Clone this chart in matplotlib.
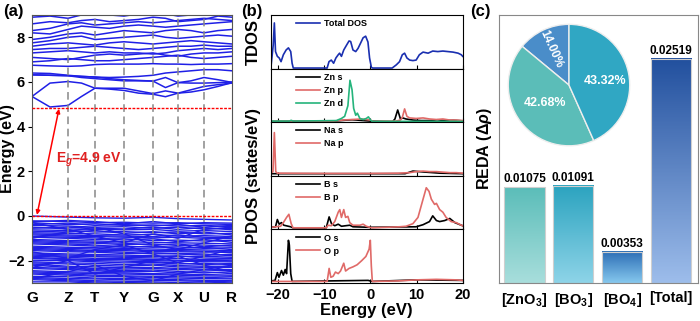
import numpy as np
import matplotlib.pyplot as plt
from matplotlib.colors import LinearSegmentedColormap

plt.rcParams['font.family'] = ['Liberation Sans', 'DejaVu Sans']
plt.rcParams['font.weight'] = 'bold'
plt.rcParams['axes.labelweight'] = 'bold'
plt.rcParams['mathtext.fontset'] = 'custom'
plt.rcParams['mathtext.rm'] = 'Liberation Sans:bold'
plt.rcParams['mathtext.bf'] = 'Liberation Sans:bold'
plt.rcParams['mathtext.it'] = 'Liberation Sans:bold:italic'

# ---------------- (a) band structure ----------------
kpt_labels = ['G', 'Z', 'T', 'Y', 'G', 'X', 'U', 'R']
kpt_pos = [0, 36, 63, 92, 121, 146, 172, 200]
# conduction bands: high-symmetry points plus midpoints
kfine = [0, 18, 36, 49.5, 63, 77.5, 92, 106.5, 121, 133.5, 146, 159, 172, 186, 200]
cb = [
    [5.35, 4.88, 4.95, 5.35, 5.72, 5.68, 5.62, 5.5, 5.45, 5.34, 5.5, 5.65, 5.8, 5.88, 5.95],
    [5.35, 5.95, 6.02, 5.95, 5.72, 5.72, 5.72, 5.6, 5.48, 5.6, 5.5, 5.55, 5.65, 5.8, 5.97],
    [6.32, 6.3, 6.28, 6.2, 6.15, 6.1, 6.05, 6.05, 6.04, 6.2, 5.97, 6.05, 6.2, 6.1, 5.98],
    [6.32, 6.3, 6.28, 6.25, 6.22, 6.15, 6.1, 6.07, 6.04, 5.75, 5.97, 5.95, 5.95, 5.97, 6.0],
    [6.4, 6.38, 6.3, 6.25, 6.22, 6.2, 6.22, 6.25, 6.3, 6.4, 6.45, 6.5, 6.55, 6.55, 6.5],
    [6.75, 6.72, 6.7, 6.72, 6.78, 6.8, 6.8, 6.8, 6.82, 6.8, 6.8, 6.78, 6.8, 6.8, 6.82],
    [6.9, 6.95, 7.05, 7.0, 6.95, 6.95, 7.0, 7.05, 7.1, 7.15, 7.2, 7.1, 7.05, 7.1, 7.15],
    [7.1, 7.05, 7.0, 7.1, 7.2, 7.25, 7.2, 7.25, 7.3, 7.2, 7.15, 7.25, 7.3, 7.3, 7.35],
    [7.3, 7.35, 7.4, 7.35, 7.3, 7.35, 7.3, 7.3, 7.25, 7.3, 7.4, 7.45, 7.5, 7.45, 7.5],
    [7.45, 7.5, 7.5, 7.55, 7.6, 7.55, 7.5, 7.45, 7.5, 7.55, 7.6, 7.6, 7.65, 7.6, 7.6],
    [7.6, 7.7, 7.75, 7.7, 7.65, 7.75, 7.8, 7.75, 7.7, 7.75, 7.8, 7.85, 7.8, 7.75, 7.7],
    [7.75, 7.85, 8.0, 8.05, 7.9, 7.95, 8.0, 8.05, 8.1, 8.0, 7.95, 8.0, 8.05, 8.1, 8.05],
    [7.9, 8.0, 8.15, 8.2, 8.1, 8.2, 8.3, 8.25, 8.2, 8.3, 8.35, 8.3, 8.2, 8.3, 8.35],
    [8.2, 8.15, 8.35, 8.5, 8.45, 8.4, 8.5, 8.55, 8.5, 8.45, 8.5, 8.55, 8.6, 8.65, 8.7],
    [8.3, 8.4, 8.6, 8.65, 8.55, 8.6, 8.65, 8.7, 8.65, 8.7, 8.75, 8.8, 8.85, 8.8, 8.75],
    [8.6, 8.7, 8.65, 8.75, 8.8, 8.7, 8.75, 8.8, 8.9, 8.85, 8.7, 8.75, 8.8, 8.95, 8.9],
    [8.9, 8.95, 8.85, 9.0, 9.05, 9.0, 8.95, 9.05, 9.1, 9.05, 8.95, 9.0, 9.05, 9.1, 9.05],
]
# valence bands at the high-symmetry points
vb = [
    [0.00, -0.05, -0.08, -0.1, -0.06, -0.12, -0.15, -0.18],
    [-0.22, -0.25, -0.3, -0.28, -0.32, -0.3, -0.35, -0.38],
    [-0.25, -0.2, -0.25, -0.35, -0.25, -0.35, -0.3, -0.32],
    [-0.3, -0.38, -0.35, -0.42, -0.4, -0.45, -0.42, -0.48],
    [-0.38, -0.32, -0.42, -0.38, -0.45, -0.38, -0.5, -0.42],
    [-0.42, -0.45, -0.5, -0.48, -0.55, -0.5, -0.58, -0.55],
    [-0.5, -0.58, -0.6, -0.62, -0.6, -0.68, -0.65, -0.7],
    [-0.55, -0.5, -0.55, -0.58, -0.5, -0.6, -0.52, -0.62],
    [-0.62, -0.65, -0.72, -0.7, -0.75, -0.72, -0.8, -0.78],
    [-0.68, -0.72, -0.65, -0.78, -0.7, -0.8, -0.72, -0.85],
    [-0.75, -0.78, -0.8, -0.85, -0.82, -0.9, -0.88, -0.92],
    [-0.8, -0.85, -0.88, -0.9, -0.92, -0.85, -0.95, -0.98],
    [-0.85, -0.9, -0.92, -0.95, -0.98, -0.95, -1.0, -1.02],
    [-0.92, -0.95, -0.98, -1.08, -1.02, -1.15, -1.05, -1.18],
    [-0.95, -1.0, -1.05, -1.02, -1.1, -1.08, -1.12, -1.1],
    [-1.05, -1.1, -1.12, -1.15, -1.18, -1.2, -1.22, -1.25],
    [-1.1, -1.15, -1.18, -1.22, -1.3, -1.25, -1.38, -1.3],
    [-1.15, -1.2, -1.22, -1.28, -1.25, -1.32, -1.3, -1.35],
    [-1.2, -1.25, -1.3, -1.4, -1.35, -1.45, -1.4, -1.5],
    [-1.25, -1.3, -1.35, -1.35, -1.4, -1.38, -1.45, -1.42],
    [-1.35, -1.4, -1.42, -1.45, -1.48, -1.5, -1.52, -1.55],
    [-1.4, -1.45, -1.48, -1.5, -1.55, -1.55, -1.58, -1.65],
    [-1.45, -1.5, -1.55, -1.55, -1.6, -1.6, -1.62, -1.6],
    [-1.5, -1.55, -1.58, -1.62, -1.7, -1.68, -1.7, -1.78],
    [-1.55, -1.6, -1.62, -1.68, -1.65, -1.7, -1.75, -1.72],
    [-1.65, -1.7, -1.72, -1.75, -1.78, -1.82, -1.8, -1.85],
    [-1.7, -1.75, -1.78, -1.8, -1.82, -1.78, -1.88, -1.9],
    [-1.75, -1.8, -1.82, -1.85, -1.88, -1.9, -1.95, -1.92],
    [-1.8, -1.85, -1.9, -1.9, -1.95, -1.98, -2.0, -1.98],
    [-1.85, -1.92, -1.95, -1.95, -2.0, -2.02, -2.05, -2.05],
    [-1.9, -1.95, -2.0, -2.02, -2.05, -2.1, -2.18, -2.12],
    [-1.98, -2.0, -2.05, -2.1, -2.08, -2.15, -2.12, -2.18],
    [-2.05, -2.1, -2.12, -2.18, -2.15, -2.22, -2.25, -2.25],
    [-2.1, -2.15, -2.2, -2.25, -2.2, -2.28, -2.3, -2.3],
    [-2.15, -2.25, -2.28, -2.32, -2.3, -2.35, -2.38, -2.4],
    [-2.2, -2.3, -2.35, -2.38, -2.35, -2.4, -2.42, -2.45],
    [-2.3, -2.35, -2.4, -2.45, -2.42, -2.48, -2.55, -2.5],
    [-2.35, -2.4, -2.45, -2.5, -2.48, -2.55, -2.5, -2.58],
    [-2.45, -2.5, -2.52, -2.55, -2.58, -2.6, -2.62, -2.65],
    [-2.5, -2.55, -2.58, -2.6, -2.62, -2.65, -2.68, -2.7],
    [-2.55, -2.6, -2.65, -2.68, -2.7, -2.72, -2.75, -2.78],
    [-2.6, -2.65, -2.7, -2.72, -2.75, -2.78, -2.8, -2.82],
    [-2.7, -2.72, -2.78, -2.8, -2.82, -2.85, -2.88, -2.9],
    [-2.75, -2.8, -2.82, -2.85, -2.88, -2.9, -2.92, -2.95],
    [-2.8, -2.85, -2.9, -2.92, -2.95, -2.98, -2.95, -3.0],
    [-2.85, -2.9, -2.95, -2.98, -3.0, -3.05, -3.0, -3.05],
    [-2.95, -2.95, -3.0, -3.05, -3.05, -3.1, -3.05, -3.1],
    [-0.3, -0.6, -0.9, -1.2, -0.8, -1.0, -0.6, -0.5],
    [-1.0, -0.7, -0.5, -0.8, -1.3, -1.5, -1.2, -0.9],
    [-1.6, -1.9, -1.5, -1.3, -1.7, -2.1, -1.8, -1.5],
    [-2.3, -2.0, -2.6, -2.3, -2.0, -1.8, -2.2, -2.5],
    [-2.8, -2.5, -2.2, -2.7, -2.9, -2.6, -2.4, -2.2],
]
cbm = 4.85

# ---------------- (b) DOS ----------------
tdos_e = [-21.6, -21.1, -20.85, -20.6, -20.2, -19.8, -19.4, -18.9, -18.3, -17.8, -17.3, -17.0, -16.75,
          -9.4, -9.0, -8.5, -8.0, -7.5, -7.0, -6.7, -6.3, -5.8, -5.2, -4.65, -4.3, -3.8, -3.2, -2.7,
          -2.2, -1.6, -1.05, -0.55, -0.2, 0.2, 0.5, 4.7, 5.6, 6.3, 6.9, 7.4, 7.9, 8.5, 9.2, 9.9, 10.6,
          11.4, 12.5, 13.5, 14.6, 15.7, 16.8, 17.9, 19.0, 19.7, 20.0]
tdos_v = [0.01, 0.43, 0.85, 0.31, 0.22, 0.19, 0.12, 0.25, 0.34, 0.38, 0.31, 0.09, 0.0,
          0.0, 0.12, 0.15, 0.09, 0.19, 0.25, 0.28, 0.22, 0.34, 0.43, 0.51, 0.50, 0.34, 0.31, 0.37,
          0.46, 0.57, 0.60, 0.49, 0.19, 0.01, 0.0, 0.0, 0.06, 0.12, 0.25, 0.28, 0.19, 0.15, 0.14, 0.15, 0.25,
          0.30, 0.28, 0.32, 0.31, 0.32, 0.31, 0.30, 0.28, 0.25, 0.22]
zns_e = [-21.6, -8.0, -5.0, -4.0, -3.0, 0.0, 4.8, 5.3, 5.9, 6.5, 7.0, 7.7, 9.2, 11.0, 13.0, 14.5, 16.0, 18.0, 20.0]
zns_v = [0.005, 0.01, 0.03, 0.035, 0.03, 0.01, 0.0, 0.05, 0.22, 0.05, 0.07, 0.05, 0.03, 0.02, 0.02, 0.035, 0.02, 0.025, 0.015]
znp_e = [-21.6, -8.0, -6.0, -4.0, -2.0, 0.0, 0.5, 5.5, 6.5, 6.9, 7.4, 7.9, 8.5, 9.9, 11.4, 12.8, 14.3, 15.7, 17.2, 18.6, 20.0]
znp_v = [0.005, 0.01, 0.03, 0.04, 0.05, 0.03, 0.005, 0.01, 0.03, 0.08, 0.24, 0.10, 0.07, 0.06, 0.07, 0.05, 0.04, 0.05, 0.03, 0.03, 0.02]
znd_e = [-21.6, -17.6, -17.2, -16.8, -7.4, -6.3, -5.6, -4.9, -4.45, -4.0, -3.65, -3.2, -2.85, -2.3, -1.6, -0.9, -0.45, 0.0, 0.4, 20.0]
znd_v = [0.01, 0.01, 0.025, 0.01, 0.02, 0.06, 0.10, 0.30, 0.78, 0.60, 0.25, 0.12, 0.16, 0.06, 0.04, 0.06, 0.09, 0.03, 0.005, 0.005]
nas_e = [-21.6, 0.0, 7.5, 8.5, 9.2, 10.5, 12.0, 13.5, 15.0, 20.0]
nas_v = [0.01, 0.01, 0.01, 0.04, 0.06, 0.05, 0.04, 0.03, 0.02, 0.01]
nap_e = [-21.6, -21.15, -20.85, -20.55, -20.2, -10.0, 0.0, 6.0, 8.5, 9.9, 11.4, 12.8, 14.3, 15.7, 17.2, 18.6, 20.0]
nap_v = [0.02, 0.05, 0.80, 0.05, 0.02, 0.015, 0.015, 0.02, 0.03, 0.05, 0.06, 0.05, 0.05, 0.04, 0.03, 0.03, 0.02]
bs_e = [-21.6, -20.6, -20.2, -19.8, -19.3, -18.8, -17.8, -17.3, -16.8, -9.6, -8.97, -8.46, -7.75, -7.0, -6.3,
        -4.5, -3.8, -0.2, 9.9, 11.4, 12.8, 13.5, 14.3, 15.0, 16.1, 17.2, 18.3, 19.7, 20.0]
bs_v = [0.01, 0.02, 0.16, 0.07, 0.10, 0.05, 0.03, 0.02, 0.0, 0.0, 0.21, 0.08, 0.04, 0.07, 0.03,
        0.05, 0.02, 0.01, 0.02, 0.06, 0.12, 0.23, 0.14, 0.12, 0.14, 0.18, 0.10, 0.05, 0.04]
bp_e = [-21.6, -19.5, -18.9, -18.2, -17.7, -17.2, -16.8, -9.6, -9.2, -8.5, -7.75, -7.0, -6.66, -6.3, -5.8,
        -5.4, -4.9, -4.5, -3.8, -2.3, -1.6, -0.9, -0.2, 0.3, 6.3, 7.7, 9.2, 10.3, 11.4, 12.1, 12.7, 13.2,
        13.9, 14.3, 15.0, 15.7, 16.4, 17.5, 18.6, 19.7, 20.0]
bp_v = [0.01, 0.03, 0.10, 0.20, 0.26, 0.08, 0.0, 0.0, 0.05, 0.04, 0.12, 0.30, 0.35, 0.20, 0.35,
        0.20, 0.22, 0.10, 0.05, 0.05, 0.07, 0.03, 0.01, 0.0, 0.02, 0.03, 0.08, 0.20, 0.55, 0.77, 0.70, 0.55,
        0.45, 0.47, 0.35, 0.30, 0.20, 0.12, 0.10, 0.05, 0.04]
os_e = [-21.6, -20.7, -20.2, -19.85, -19.3, -18.9, -18.5, -18.2, -17.8, -17.6, -17.3, -17.0, -9.0, -0.5, 0.3, 10.0, 20.0]
os_v = [0.01, 0.02, 0.17, 0.08, 0.21, 0.12, 0.23, 0.15, 0.79, 0.70, 0.15, 0.0, 0.01, 0.02, 0.0, 0.03, 0.02]
op_e = [-21.6, -9.4, -8.97, -8.6, -8.1, -7.6, -7.0, -6.5, -5.8, -5.4, -4.65, -3.8, -2.9, -1.9, -1.0,
        -0.3, -0.04, 0.18, 0.4, 6.0, 10.0, 14.3, 18.6, 20.0]
op_v = [0.0, 0.0, 0.25, 0.08, 0.10, 0.18, 0.15, 0.20, 0.35, 0.20, 0.25, 0.28, 0.32, 0.40, 0.48,
        0.62, 0.79, 0.30, 0.0, 0.01, 0.03, 0.04, 0.03, 0.02]

# ---------------- (c) REDA ----------------
reda_labels = ['[ZnO$_{3}$]', '[BO$_{3}$]', '[BO$_{4}$]', '[Total]']
reda_vals = [0.01075, 0.01091, 0.00353, 0.02519]
pie_labels = ['14.00%', '42.68%', '43.32%']
pie_vals = [14.00, 42.68, 43.32]

BLUE = '#1f1fe6'
RED = '#e06a68'
GREEN = '#25b47c'

fig = plt.figure(figsize=(7.0, 3.21), dpi=100)

# ---- panel a
ax = fig.add_axes([0.0457, 0.1184, 0.2857, 0.835])
for b in cb:
    ax.plot(kfine, b, color=BLUE, lw=1.1)
for b in vb:
    ax.plot(kpt_pos, b, color=BLUE, lw=1.0)
for k in kpt_pos[1:-1]:
    ax.axvline(k, color='#888888', lw=1.1, ls=(0, (5, 3)), zorder=3)
ax.axhline(0, color='red', lw=1.0, ls=(0, (2, 1)), zorder=4)
ax.axhline(cbm, color='red', lw=1.0, ls=(0, (2, 1)), zorder=4)
ax.annotate('', xy=(27, cbm - 0.05), xytext=(5, 0.05),
            arrowprops=dict(arrowstyle='<|-|>', color='red', lw=1.1, mutation_scale=6, shrinkA=0, shrinkB=0),
            zorder=5)
ax.text(24, 2.5, 'E$_{g}$=4.9 eV', color='#e02020', fontsize=10, fontweight='bold', va='center', zorder=5)
ax.set_xlim(kpt_pos[0], kpt_pos[-1])
ax.set_ylim(-3, 9)
ax.set_xticks(kpt_pos)
ax.set_xticklabels(kpt_labels)
ax.set_yticks([-2, 0, 2, 4, 6, 8])
ax.tick_params(axis='x', length=0, labelsize=11, pad=6)
ax.tick_params(axis='y', labelsize=10.5, length=3, pad=2)
ax.set_ylabel('Energy (eV)', fontsize=11.5)
ax.yaxis.set_label_coords(-0.085, 0.5)
for s in ax.spines.values():
    s.set_color('#555555')

# ---- panel b
dos_left, dos_w = 0.387, 0.274
panel_h = 0.835 / 5
dos_sets = [
    [(tdos_e, tdos_v, '#1a2fb0', 'Total DOS')],
    [(zns_e, zns_v, 'black', 'Zn s'), (znp_e, znp_v, RED, 'Zn p'), (znd_e, znd_v, GREEN, 'Zn d')],
    [(nas_e, nas_v, 'black', 'Na s'), (nap_e, nap_v, RED, 'Na p')],
    [(bs_e, bs_v, 'black', 'B s'), (bp_e, bp_v, RED, 'B p')],
    [(os_e, os_v, 'black', 'O s'), (op_e, op_v, RED, 'O p')],
]
dos_axes = []
for i, curves in enumerate(dos_sets):
    bottom = 0.1184 + (4 - i) * panel_h
    a = fig.add_axes([dos_left, bottom, dos_w, panel_h])
    for e, v, c, lab in curves:
        a.plot(e, v, color=c, lw=1.2, label=lab)
    a.set_xlim(-21.6, 20)
    a.set_ylim(-0.01 if i < 2 else -0.03, 1.0)
    a.set_yticks([])
    a.set_xticks([-20, -10, 0, 10, 20])
    a.tick_params(axis='x', direction='in', length=3, labelsize=10.5)
    if i < 4:
        a.tick_params(labelbottom=False)
    a.legend(loc='upper left', bbox_to_anchor=(0.1, 1.04), frameon=False, fontsize=6.5,
             handlelength=2.6, handletextpad=0.5, labelspacing=0.45, borderaxespad=0.3)
    dos_axes.append(a)
dos_axes[-1].set_xlabel('Energy (eV)', fontsize=12, labelpad=1)
fig.text(0.362, 0.1184 + 4.5 * panel_h, 'TDOS', rotation=90, fontsize=12, fontweight='bold', ha='center', va='center')
fig.text(0.362, 0.1184 + 2 * panel_h, 'PDOS (states/eV)', rotation=90, fontsize=12, fontweight='bold', ha='center', va='center')

# ---- panel c
axc = fig.add_axes([0.713, 0.1184, 0.284, 0.835])
xpos = np.arange(len(reda_vals))
bars = axc.bar(xpos, reda_vals, width=0.82, color='none', edgecolor='#cfcfcf', lw=0.8, zorder=3)
grad_colors = [('#a8dedc', '#5bbdb9'), ('#8ed4e8', '#2ba3bf'), ('#86c8ee', '#2c6db5'), ('#9dbdeb', '#22509e')]
grad = np.linspace(0, 1, 200).reshape(-1, 1)
for bar, (c0, c1), val in zip(bars, grad_colors, reda_vals):
    cmap = LinearSegmentedColormap.from_list('g', [c0, c1])
    x0 = bar.get_x()
    axc.imshow(grad, cmap=cmap, extent=[x0, x0 + bar.get_width(), 0, bar.get_height()],
               aspect='auto', origin='lower', zorder=2)
    axc.text(bar.get_x() + bar.get_width() / 2, val + 0.0002, f'{val:.5f}', ha='center', va='bottom',
             fontsize=8.5, fontweight='bold')
axc.set_xlim(-0.52, 3.55)
axc.set_ylim(0, 0.0301)
axc.set_xticks(xpos)
axc.set_xticklabels(reda_labels, fontsize=10.5)
axc.set_yticks([])
axc.tick_params(axis='x', length=0, pad=6)
axc.set_ylabel(r'REDA ($\Delta\rho$)', fontsize=11.5, labelpad=4)
for s in axc.spines.values():
    s.set_color('#888888')

# pie inset
pax = fig.add_axes([0.7243, 0.542, 0.1771, 0.386])
pax.pie(pie_vals, colors=['#4a8dc9', '#5bbdb8', '#30a7c3'], startangle=90, counterclock=True,
        wedgeprops=dict(edgecolor='#eeeeee', linewidth=1.0))
pie_txt_pos = [(-0.3, 0.6, -66, 8.5), (-0.4, -0.3, 0, 9), (0.6, 0.06, 0, 9)]
for lab, (tx, ty, rot, fs) in zip(pie_labels, pie_txt_pos):
    pax.text(tx, ty, lab, color='white', fontsize=fs, fontweight='bold', ha='center', va='center', rotation=rot)
pax.set_xlim(-1.02, 1.02)
pax.set_ylim(-1.02, 1.02)
pax.set_aspect('equal')

# panel letters
fig.text(0.004, 0.965, '(a)', fontsize=12, fontweight='bold', va='center')
fig.text(0.345, 0.965, '(b)', fontsize=12, fontweight='bold', va='center')
fig.text(0.672, 0.965, '(c)', fontsize=12, fontweight='bold', va='center')

fig.savefig('out.png', dpi=100)
